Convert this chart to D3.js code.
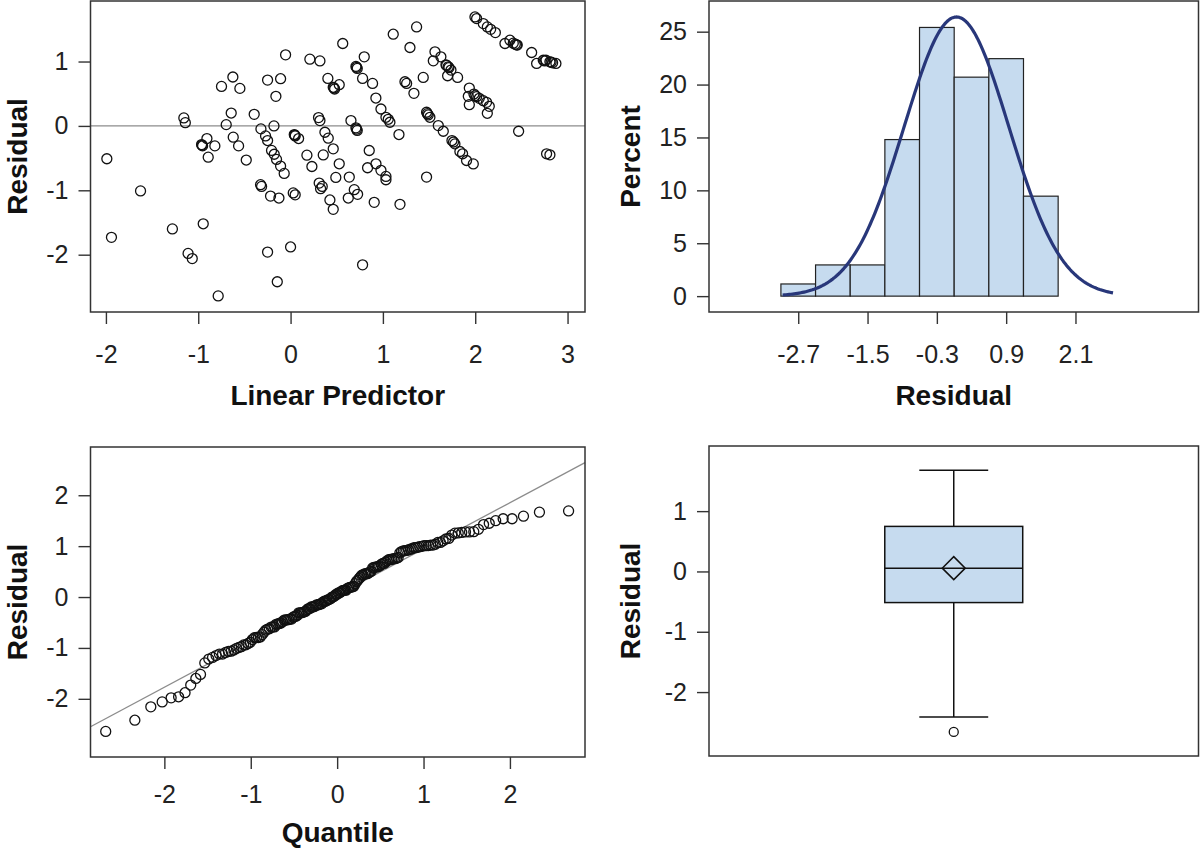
<!DOCTYPE html>
<html><head><meta charset="utf-8">
<script src="https://cdn.jsdelivr.net/npm/d3@7"></script>
<style>body{margin:0;background:#fff} svg{display:block}</style>
</head><body><svg id="c" width="1200" height="849"></svg>
<script>
// ---------- data ----------
const linearPredictor = [
 -1.99,-1.94,-1.625,-1.28,-1.156,-1.14,-1.11,-1.065,-0.946,-0.964,
 -0.953,-0.906,-0.82,-0.892,-0.784,-0.748,-0.625,-0.549,-0.643,-0.697,
 -0.621,-0.563,-0.48,-0.394,-0.321,-0.271,-0.249,-0.249,-0.108,-0.159,
 -0.054,-0.18,-0.206,-0.177,-0.152,-0.108,-0.069,-0.325,-0.314,-0.217,
 -0.126,-0.249,-0.144,0.0,0.04,0.05,0.087,0.029,0.05,0.177,
 0.231,0.209,0.318,0.354,0.303,0.318,0.372,0.408,0.462,0.31,
 0.343,0.325,0.426,0.462,0.404,0.462,0.477,0.49,0.527,
 0.565,0.527,0.636,0.625,0.69,0.726,0.906,0.78,0.834,0.852,
 0.925,0.979,1.033,1.033,1.185,0.654,0.708,0.722,0.708,0.722,
 0.78,0.798,0.888,0.924,0.979,1.033,1.058,1.076,1.174,1.112,
 1.293,1.365,1.239,1.257,1.336,1.437,1.473,1.473,1.491,1.509,
 1.6,1.654,1.748,1.78,1.834,1.863,1.906,1.979,1.564,1.628,
 1.546,1.683,1.708,1.737,1.701,1.809,1.936,1.925,1.936,1.986,
 2.015,2.044,2.087,2.123,2.152,2.131,2.47,2.773,2.809,1.997,
 2.015,2.087,2.131,2.167,2.218,2.322,2.376,2.412,2.434,2.448,
 2.611,2.665,2.737,2.766,2.809,2.838,2.874,
 2.455,2.752,2.822,1.715,0.715,1.69,0.47,1.998,1.482,-0.958,0.045,0.715,1.765
];
const residual = [
 -0.51,-1.73,-1.01,-1.60,0.124,0.05,-1.98,-2.06,-1.52,-0.29,
 -0.31,-0.196,-0.31,-0.485,-2.64,0.614,0.76,0.583,0.20,0.02,
 -0.175,-0.31,-0.53,0.18,-0.046,-0.155,-0.227,0.712,0.733,0.459,
 1.104,0.0,-0.38,-0.44,-0.52,-0.624,-0.738,-0.913,-0.94,-1.09,
 -1.12,-1.96,-2.42,-1.88,-0.134,-0.155,-0.196,-1.04,-1.07,-0.454,
 -0.63,1.037,1.01,-0.45,0.129,0.083,-0.098,-0.19,-0.356,-0.888,
 -0.94,-0.975,-1.15,-1.295,0.738,0.6,0.573,-0.80,-0.588,
 1.28,0.64,-0.795,-1.12,-0.99,-1.063,-1.187,-2.157,-0.65,-0.382,
 -0.588,-0.69,-0.784,-0.836,-1.218,0.083,-0.03,-0.07,0.924,0.893,
 0.738,1.073,0.66,0.433,0.263,0.134,0.103,0.057,-0.134,1.424,
 1.218,1.538,0.686,0.66,0.506,0.753,-0.795,0.212,0.17,0.134,
 0.005,-0.083,-0.227,-0.279,-0.397,-0.433,-0.537,-0.59,1.151,1.073,
 1.011,0.949,0.918,0.867,0.779,0.753,0.588,0.459,0.33,0.495,
 0.454,0.428,0.392,0.366,0.304,0.196,-0.083,-0.433,-0.449,1.692,
 1.667,1.589,1.538,1.50,1.45,1.28,1.331,1.285,1.269,1.259,
 1.14,0.97,1.02,1.02,0.996,0.98,0.97,
 1.255,1.01,0.99,0.905,0.91,0.94,0.59,0.47,0.19,-0.30,-0.145,-0.05,-0.25
];
const scatterXTicks = [-2,-1,0,1,2,3];
const scatterYTicks = [-2,-1,0,1];

const histMidpoints = [-2.7,-2.1,-1.5,-0.9,-0.3,0.3,0.9,1.5];
const histPercent   = [1.15,2.95,2.95,14.8,25.4,20.7,22.45,9.45];
const histBinWidth  = 0.6;
const histXTicks = [-2.7,-1.5,-0.3,0.9,2.1];
const histYTicks = [0,5,10,15,20,25];
const normalMean = 0.04, normalSd = 0.907;
const normalRange = [-2.97, 2.75];

const qqXTicks = [-2,-1,0,1,2];
const qqYTicks = [-2,-1,0,1,2];

const boxQ1 = -0.516, boxMedian = 0.055, boxQ3 = 0.747, boxMean = 0.055;
const boxWhiskers = [-2.412, 1.676];
const boxOutliers = [-2.66];
const boxYTicks = [-2,-1,0,1];

// ---------- drawing ----------
const svg = d3.select("#c");
const FONT = '"Liberation Sans", Arial, sans-serif';
const BLUE = "#c6dbef", NAVY = "#28377a", FRAME = "#333";

function frame(x0,x1,y0,y1){
  svg.append("rect").attr("x",x0).attr("y",y0).attr("width",x1-x0).attr("height",y1-y0)
    .attr("fill","none").attr("stroke",FRAME).attr("stroke-width",1.5);
}
function styleAxis(g){
  g.select(".domain").remove();
  g.attr("font-family",FONT).attr("font-size",25);
  g.selectAll("line").attr("stroke",FRAME).attr("stroke-width",1.4);
  g.selectAll("text").attr("fill","#222");
}
function xAxis(scale, y, ticks, pad){
  const g = svg.append("g").attr("transform",`translate(0,${y})`)
    .call(d3.axisBottom(scale).tickValues(ticks).tickFormat(d=>String(d)).tickSize(12).tickPadding(pad));
  styleAxis(g);
}
function yAxis(scale, x, ticks){
  const g = svg.append("g").attr("transform",`translate(${x},0)`)
    .call(d3.axisLeft(scale).tickValues(ticks).tickFormat(d=>String(d)).tickSize(12).tickPadding(10));
  styleAxis(g);
}
function xTitle(text, cx, y){
  svg.append("text").attr("x",cx).attr("y",y).attr("text-anchor","middle")
    .attr("font-family",FONT).attr("font-size",28).attr("font-weight","bold").attr("fill","#111").text(text);
}
function yTitle(text, x, cy){
  svg.append("text").attr("transform",`translate(${x},${cy}) rotate(-90)`).attr("text-anchor","middle")
    .attr("font-family",FONT).attr("font-size",28).attr("font-weight","bold").attr("fill","#111").text(text);
}

// Panel 1: residual vs linear predictor
{
  const L=90.5,R=585,T=1,B=312;
  const x = d3.scaleLinear().domain([-2.167,3.189]).range([L,R]);
  const y = d3.scaleLinear().domain([-2.89,1.94]).range([B,T]);
  svg.append("line").attr("x1",L).attr("x2",R).attr("y1",y(0)).attr("y2",y(0))
    .attr("stroke","#8c8c8c").attr("stroke-width",1.3);
  svg.append("g").selectAll("circle").data(d3.range(residual.length)).join("circle")
    .attr("cx",i=>x(linearPredictor[i])).attr("cy",i=>y(residual[i])).attr("r",5)
    .attr("fill","none").attr("stroke","#111").attr("stroke-width",1.3);
  frame(L,R,T,B);
  xAxis(x,B,scatterXTicks,21);
  yAxis(y,L,scatterYTicks);
  xTitle("Linear Predictor",(L+R)/2,405);
  yTitle("Residual",27,(T+B)/2);
}

// Panel 2: histogram with normal curve
{
  const L=709,R=1198.5,T=1,B=312;
  const x = d3.scaleLinear().domain([-4.245,4.23]).range([L,R]);
  const y = d3.scaleLinear().domain([-1.5,27.9]).range([B,T]);
  svg.append("g").selectAll("rect").data(histMidpoints).join("rect")
    .attr("x",d=>x(d-histBinWidth/2)).attr("width",d=>x(d+histBinWidth/2)-x(d-histBinWidth/2))
    .attr("y",(d,i)=>y(histPercent[i])).attr("height",(d,i)=>y(0)-y(histPercent[i]))
    .attr("fill",BLUE).attr("stroke","#222").attr("stroke-width",1.2);
  const xs = d3.range(0,201).map(k=>normalRange[0]+(normalRange[1]-normalRange[0])*k/200);
  const dens = v => 100*histBinWidth*Math.exp(-0.5*((v-normalMean)/normalSd)**2)/(normalSd*Math.sqrt(2*Math.PI));
  svg.append("path").datum(xs).attr("d",d3.line().x(v=>x(v)).y(v=>y(dens(v))))
    .attr("fill","none").attr("stroke",NAVY).attr("stroke-width",3.2).attr("stroke-linejoin","round");
  frame(L,R,T,B);
  xAxis(x,B,histXTicks,21);
  yAxis(y,L,histYTicks);
  xTitle("Residual",(L+R)/2,405);
  yTitle("Percent",640,(T+B)/2);
}

// Panel 3: normal quantile plot
{
  const L=90.5,R=585,T=447,B=757;
  const x = d3.scaleLinear().domain([-2.855,2.869]).range([L,R]);
  const y = d3.scaleLinear().domain([-3.143,2.948]).range([B,T]);
  function invNorm(p){
    const a=[-3.969683028665376e+01,2.209460984245205e+02,-2.759285104469687e+02,1.383577518672690e+02,-3.066479806614716e+01,2.506628277459239e+00];
    const b=[-5.447609879822406e+01,1.615858368580409e+02,-1.556989798598866e+02,6.680131188771972e+01,-1.328068155288572e+01];
    const c=[-7.784894002430293e-03,-3.223964580411365e-01,-2.400758277161838e+00,-2.549732539343734e+00,4.374664141464968e+00,2.938163982698783e+00];
    const d=[7.784695709041462e-03,3.224671290700398e-01,2.445134137142996e+00,3.754408661907416e+00];
    const pl=0.02425; let q,r;
    if(p<pl){q=Math.sqrt(-2*Math.log(p));return (((((c[0]*q+c[1])*q+c[2])*q+c[3])*q+c[4])*q+c[5])/((((d[0]*q+d[1])*q+d[2])*q+d[3])*q+1);}
    if(p>1-pl){q=Math.sqrt(-2*Math.log(1-p));return -(((((c[0]*q+c[1])*q+c[2])*q+c[3])*q+c[4])*q+c[5])/((((d[0]*q+d[1])*q+d[2])*q+d[3])*q+1);}
    q=p-0.5;r=q*q;return (((((a[0]*r+a[1])*r+a[2])*r+a[3])*r+a[4])*r+a[5])*q/(((((b[0]*r+b[1])*r+b[2])*r+b[3])*r+b[4])*r+1);
  }
  const sorted = residual.slice().sort(d3.ascending);
  const n = sorted.length;
  const qq = sorted.map((v,i)=>[invNorm((i+1-0.375)/(n+0.25)), v]);
  const [dx0,dx1] = x.domain();
  svg.append("line").attr("x1",x(dx0)).attr("x2",x(dx1))
    .attr("y1",y(normalMean+normalSd*dx0)).attr("y2",y(normalMean+normalSd*dx1))
    .attr("stroke","#8c8c8c").attr("stroke-width",1.3);
  svg.append("g").selectAll("circle").data(qq).join("circle")
    .attr("cx",d=>x(d[0])).attr("cy",d=>y(d[1])).attr("r",5)
    .attr("fill","none").attr("stroke","#111").attr("stroke-width",1.3);
  frame(L,R,T,B);
  xAxis(x,B,qqXTicks,16);
  yAxis(y,L,qqYTicks);
  xTitle("Quantile",(L+R)/2,842);
  yTitle("Residual",27,(T+B)/2);
}

// Panel 4: box plot
{
  const L=709,R=1198.5,T=446,B=756;
  const x = d3.scaleLinear().domain([0,1]).range([L,R]);
  const y = d3.scaleLinear().domain([-3.06,2.08]).range([B,T]);
  const c = 0.5, hw = 0.1409, cap = 0.0704;
  const g = svg.append("g").attr("stroke","#111").attr("stroke-width",1.5);
  g.append("line").attr("x1",x(c)).attr("x2",x(c)).attr("y1",y(boxQ3)).attr("y2",y(boxWhiskers[1]));
  g.append("line").attr("x1",x(c)).attr("x2",x(c)).attr("y1",y(boxQ1)).attr("y2",y(boxWhiskers[0]));
  g.selectAll("line.cap").data(boxWhiskers).join("line").attr("class","cap")
    .attr("x1",x(c-cap)).attr("x2",x(c+cap)).attr("y1",d=>y(d)).attr("y2",d=>y(d));
  g.append("rect").attr("x",x(c-hw)).attr("width",x(c+hw)-x(c-hw))
    .attr("y",y(boxQ3)).attr("height",y(boxQ1)-y(boxQ3)).attr("fill",BLUE);
  g.append("line").attr("x1",x(c-hw)).attr("x2",x(c+hw)).attr("y1",y(boxMedian)).attr("y2",y(boxMedian));
  const mx=x(c), my=y(boxMean), s=11.5;
  g.append("path").attr("d",`M${mx},${my-s}L${mx+s},${my}L${mx},${my+s}L${mx-s},${my}Z`).attr("fill","none");
  g.selectAll("circle").data(boxOutliers).join("circle")
    .attr("cx",x(c)).attr("cy",d=>y(d)).attr("r",4.5).attr("fill","none").attr("stroke-width",1.3);
  frame(L,R,T,B);
  yAxis(y,L,boxYTicks);
  yTitle("Residual",640,(T+B)/2);
}
</script></body></html>
